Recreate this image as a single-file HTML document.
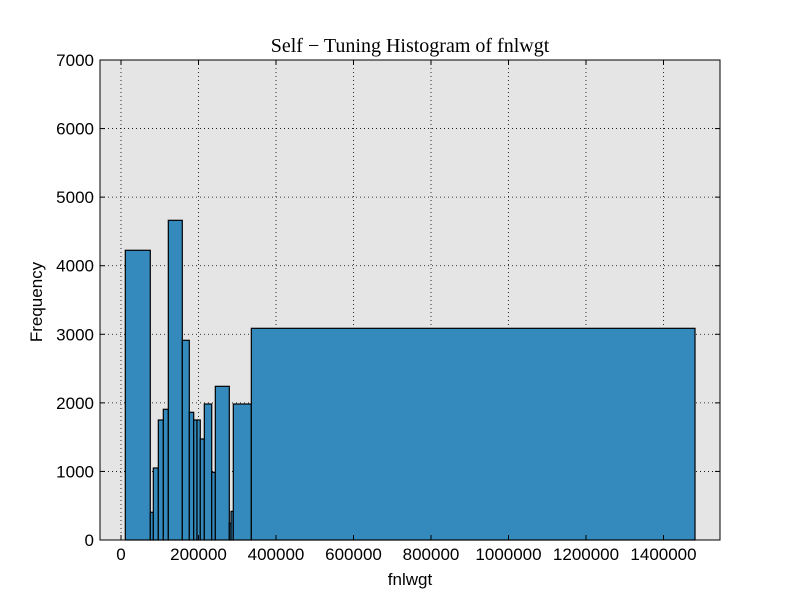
<!DOCTYPE html>
<html><head><meta charset="utf-8"><style>
body{margin:0;background:#fff;}
svg text{font-family:"Liberation Sans",sans-serif;}
</style></head><body>
<svg id="chart" width="800" height="600">
<rect x="0" y="0" width="800" height="600" fill="#fff"/>
<rect x="100" y="60" width="620" height="480" fill="#e5e5e5"/>
<g id="grid"></g><g id="bars"></g><g id="axes"></g>
<rect x="100" y="60" width="620" height="480" fill="none" stroke="#000" stroke-width="1"/>
<text x="410" y="52" text-anchor="middle" font-size="20" style="font-family:'Liberation Serif',serif">Self − Tuning Histogram of fnlwgt</text>
<text x="410" y="585" text-anchor="middle" font-size="17">fnlwgt</text>
<text x="42" y="302" text-anchor="middle" font-size="17" transform="rotate(-90 42 302)">Frequency</text>
</svg>
<script>
const binEdges=[11100,75600,83400,96300,109200,122100,158200,176300,187600,196100,204600,215000,234100,243400,279500,283900,289800,336300,1481300];
const counts=[4225,404,1050,1750,1906,4662,2912,1862,1750,1750,1473,1983,987,2241,243,418,1983,3087];
const xTicks=[0,200000,400000,600000,800000,1000000,1200000,1400000];
const yTicks=[0,1000,2000,3000,4000,5000,6000,7000];
const NS="http://www.w3.org/2000/svg";
const xs=v=>121+v*0.0003875;
const ys=v=>540-v*480/7000;
function mk(tag,attrs,parent){const e=document.createElementNS(NS,tag);for(const k in attrs)e.setAttribute(k,attrs[k]);parent.appendChild(e);return e;}
const grid=document.getElementById('grid'),bars=document.getElementById('bars'),axes=document.getElementById('axes');
xTicks.forEach(t=>{const x=xs(t);
 mk('line',{x1:x,x2:x,y1:60,y2:540,stroke:'#000','stroke-dasharray':'1,3','stroke-width':0.8},grid);
 mk('line',{x1:x,x2:x,y1:540,y2:535,stroke:'#000'},axes);
 mk('line',{x1:x,x2:x,y1:60,y2:65,stroke:'#000'},axes);
 const tx=mk('text',{x:x,y:560,'text-anchor':'middle','font-size':17},axes);tx.textContent=t;
 
 });
yTicks.forEach(t=>{const y=ys(t);
 mk('line',{x1:100,x2:720,y1:y,y2:y,stroke:'#000','stroke-dasharray':'1,3','stroke-width':0.8},grid);
 mk('line',{x1:100,x2:105,y1:y,y2:y,stroke:'#000'},axes);
 mk('line',{x1:715,x2:720,y1:y,y2:y,stroke:'#000'},axes);
 const tx=mk('text',{x:94,y:y+6,'text-anchor':'end','font-size':17},axes);tx.textContent=t;
 
 });
counts.forEach((c,i)=>{const x0=xs(binEdges[i]),x1=xs(binEdges[i+1]);
 const r=mk('rect',{x:x0,y:ys(c),width:x1-x0,height:540-ys(c),fill:'#348abd',stroke:'#000','stroke-width':1.2},bars);
 
 });
</script>
</body></html>
